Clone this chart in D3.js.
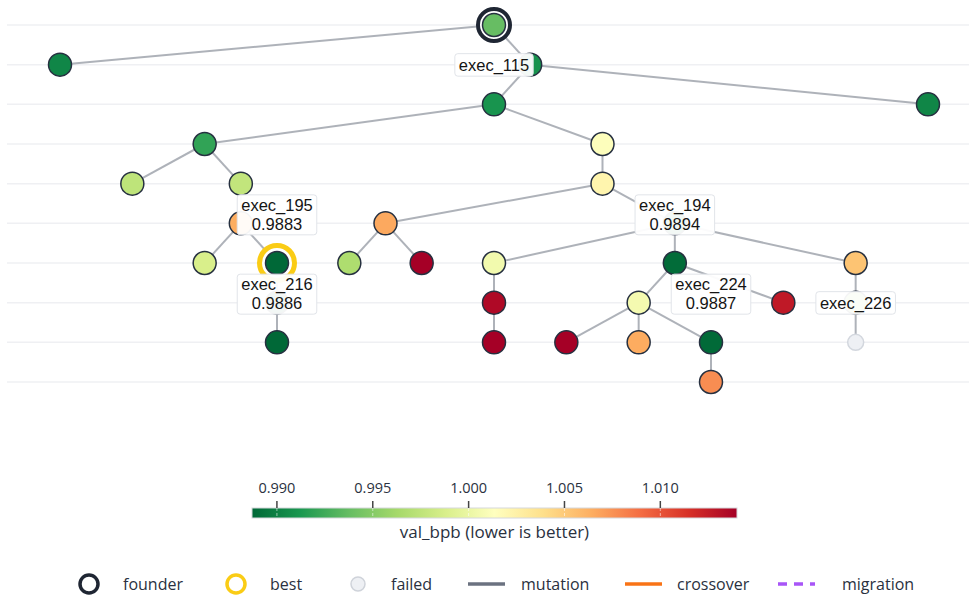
<!DOCTYPE html>
<html lang="en">
<head>
<meta charset="UTF-8">
<title>Lineage tree</title>
<style>
  body { margin: 0; background: #fff; }
  svg { display: block; font-family: "Open Sans", "Liberation Sans", Arial, sans-serif; }
</style>
</head>
<body>
<div id="chart"></div>
<script src="https://cdn.jsdelivr.net/npm/d3@7"></script>
<script>
"use strict";

// tree nodes: layout column, generation, parent, val_bpb (null = failed)
var nodeIds    = ["A","B","C","D","E","F","G","H","I","J","K","L","M","N","O","P","Q","R","S","T","U","V","W","Y","Z","a","b","c","d","e","f","g"];
var nodeCol    = [12, 0, 13, 12, 24, 4, 15, 2, 5, 15, 5, 9, 17, 4, 6, 8, 10, 12, 17, 22, 6, 12, 16, 20, 22, 6, 12, 14, 16, 18, 22, 18];
var nodeGen    = [0, 1, 1, 2, 2, 3, 3, 4, 4, 4, 5, 5, 5, 6, 6, 6, 6, 6, 6, 6, 7, 7, 7, 7, 7, 8, 8, 8, 8, 8, 8, 9];
var nodeParent = [null,"A","A","C","C","D","D","F","F","G","I","J","J","K","K","L","L","M","M","M","O","R","S","S","T","U","V","W","W","W","Z","e"];
var nodeVal    = [0.9938, 0.9903, 0.9909, 0.9910, 0.9903, 0.9920, 1.0012, 0.9975, 0.9977, 1.0022,
                  1.0064, 1.0066, 0.9894, 0.9988, 0.9883, 0.9967, 1.0140, 1.0005, 0.9889, 1.0053,
                  0.9886, 1.0135, 1.0006, 1.0127, 0.9960, 0.9886, 1.0140, 1.0140, 1.0065, 0.9888,
                  null, 1.0077];
var edgeKind   = "mutation";
var founderId  = "A";
var bestId     = "O";

// text labels
var labelLines = [["exec_115"], ["exec_195", "0.9883"], ["exec_216", "0.9886"], ["exec_194", "0.9894"], ["exec_224", "0.9887"], ["exec_226"]];
var labelCol   = [12, 6, 6, 17, 18, 22];
var labelGen   = [1, 5, 7, 5, 7, 7];

// colour bar
var cbDomain = [0.9887, 1.0140];
var cbTicks  = [0.990, 0.995, 1.000, 1.005, 1.010];
var cbTitle  = "val_bpb (lower is better)";
var rdylgn   = ["#006837","#1a9850","#66bd63","#a6d96a","#d9ef8b","#ffffbf","#fee08b","#fdae61","#f46d43","#d73027","#a50026"];

// legend
var legendNames = ["founder", "best", "failed", "mutation", "crossover", "migration"];
var legendX     = [89, 236, 358, 486, 643, 796];
var legendTextX = [123, 270, 391, 521, 677, 842];

var width = 969, height = 598;

var svg = d3.select("#chart").append("svg")
    .attr("width", width)
    .attr("height", height);

var x = d3.scaleLinear().domain([0, 24]).range([60, 928]);
var y = d3.scaleLinear().domain([0, 9]).range([25, 382]);

var colorStops = rdylgn.map(function(c, i) {
    return cbDomain[0] + (cbDomain[1] - cbDomain[0]) * i / (rdylgn.length - 1);
});
var color = d3.scaleLinear().domain(colorStops).range(rdylgn).clamp(true);

var nodes = nodeIds.map(function(id, i) {
    return { id: id, col: nodeCol[i], gen: nodeGen[i], parent: nodeParent[i], val: nodeVal[i] };
});
var byId = {};
nodes.forEach(function(n) { byId[n.id] = n; });

// grid lines for each generation
svg.append("g")
    .selectAll("line")
    .data(d3.range(0, 10))
    .enter()
    .append("line")
    .attr("x1", 7)
    .attr("x2", width)
    .attr("y1", function(d) { return y(d); })
    .attr("y2", function(d) { return y(d); })
    .attr("stroke", "#eff0f3")
    .attr("stroke-width", 1.5);

// edges
svg.append("g")
    .selectAll("line")
    .data(nodes.filter(function(n) { return n.parent; }))
    .enter()
    .append("line")
    .attr("x1", function(d) { return x(byId[d.parent].col); })
    .attr("y1", function(d) { return y(byId[d.parent].gen); })
    .attr("x2", function(d) { return x(d.col); })
    .attr("y2", function(d) { return y(d.gen); })
    .attr("stroke", edgeKind === "mutation" ? "#6b7280" : "#f97316")
    .attr("stroke-opacity", 0.55)
    .attr("stroke-width", 2);

// founder / best rings
var founder = byId[founderId], best = byId[bestId];
svg.append("circle")
    .attr("cx", x(founder.col)).attr("cy", y(founder.gen)).attr("r", 16)
    .attr("fill", "#fff").attr("stroke", "#1f2633").attr("stroke-width", 4);
svg.append("circle")
    .attr("cx", x(best.col)).attr("cy", y(best.gen)).attr("r", 17.5)
    .attr("fill", "#fff").attr("stroke", "#facc15").attr("stroke-width", 5);

// nodes
svg.append("g")
    .selectAll("circle")
    .data(nodes)
    .enter()
    .append("circle")
    .attr("cx", function(d) { return x(d.col); })
    .attr("cy", function(d) { return y(d.gen); })
    .attr("r", function(d) { return d.val === null ? 8 : 11.5; })
    .attr("fill", function(d) { return d.val === null ? "#eef0f4" : color(d.val); })
    .attr("stroke", function(d) { return d.val === null ? "#d3d7de" : "#263040"; })
    .attr("stroke-width", 1.5);

// labels
var labels = svg.append("g")
    .selectAll("g")
    .data(labelLines.map(function(l, i) { return { lines: l, col: labelCol[i], gen: labelGen[i] }; }))
    .enter()
    .append("g");

labels.each(function(d) {
    var g = d3.select(this);
    var cx = x(d.col), bottom = y(d.gen) + 11.5, lh = 19;
    var top = bottom - d.lines.length * lh - (d.lines.length === 1 ? 3.5 : 2);
    var rect = g.append("rect");
    var t = g.append("text")
        .attr("text-anchor", "middle")
        .attr("font-family", "'Liberation Sans', Arial, sans-serif")
        .attr("font-size", 16.5)
        .attr("fill", "#141414");
    d.lines.forEach(function(s, k) {
        t.append("tspan")
            .attr("x", cx)
            .attr("y", bottom - 5 - lh * (d.lines.length - 1 - k))
            .text(s);
    });
    var w = t.node().getBBox().width + 8;
    rect.attr("x", cx - w / 2).attr("y", top)
        .attr("width", w).attr("height", bottom - top)
        .attr("rx", 3)
        .attr("fill", "rgba(255,255,255,0.95)")
        .attr("stroke", "#e1e4e9")
        .attr("stroke-width", 1);
});

// colour bar
var cb = d3.scaleLinear().domain(cbDomain).range([252, 737]);
var grad = svg.append("defs").append("linearGradient").attr("id", "cbgrad");
grad.selectAll("stop")
    .data(rdylgn)
    .enter()
    .append("stop")
    .attr("offset", function(d, i) { return (i / (rdylgn.length - 1) * 100) + "%"; })
    .attr("stop-color", function(d) { return d; });

svg.append("rect")
    .attr("x", cb.range()[0]).attr("y", 508)
    .attr("width", cb.range()[1] - cb.range()[0]).attr("height", 10)
    .attr("fill", "url(#cbgrad)")
    .attr("stroke", "#d6d8dc").attr("stroke-width", 1);

var cbTick = svg.append("g")
    .selectAll("g")
    .data(cbTicks)
    .enter()
    .append("g")
    .attr("transform", function(d) { return "translate(" + cb(d) + ",0)"; });
cbTick.append("line").attr("y1", 501).attr("y2", 508).attr("stroke", "#444").attr("stroke-width", 1.5);
cbTick.append("line").attr("y1", 508).attr("y2", 518).attr("stroke", "rgba(255,255,255,0.55)").attr("stroke-width", 1)
    .attr("stroke-dasharray", "3,2");
cbTick.append("text")
    .attr("y", 493)
    .attr("text-anchor", "middle")
    .attr("font-size", 14.5)
    .attr("fill", "#2a3140")
    .text(function(d) { return d3.format(".3f")(d); });

svg.append("text")
    .attr("x", (cb.range()[0] + cb.range()[1]) / 2)
    .attr("y", 538)
    .attr("text-anchor", "middle")
    .attr("font-size", 17)
    .attr("fill", "#2a3140")
    .text(cbTitle);

// legend
var ly = 584;
var leg = svg.append("g");
leg.append("circle").attr("cx", legendX[0]).attr("cy", ly).attr("r", 9)
    .attr("fill", "#fff").attr("stroke", "#1f2633").attr("stroke-width", 3.5);
leg.append("circle").attr("cx", legendX[1]).attr("cy", ly).attr("r", 9)
    .attr("fill", "#fff").attr("stroke", "#facc15").attr("stroke-width", 3.5);
leg.append("circle").attr("cx", legendX[2]).attr("cy", ly).attr("r", 7)
    .attr("fill", "#eef0f4").attr("stroke", "#cfd3da").attr("stroke-width", 1.5);
leg.append("line").attr("x1", legendX[3] - 18).attr("x2", legendX[3] + 19).attr("y1", ly).attr("y2", ly)
    .attr("stroke", "#6b7280").attr("stroke-width", 3.5);
leg.append("line").attr("x1", legendX[4] - 18).attr("x2", legendX[4] + 19).attr("y1", ly).attr("y2", ly)
    .attr("stroke", "#f97316").attr("stroke-width", 3.5);
leg.append("line").attr("x1", legendX[5] - 18).attr("x2", legendX[5] + 19).attr("y1", ly).attr("y2", ly)
    .attr("stroke", "#a855f7").attr("stroke-width", 3.5).attr("stroke-dasharray", "9,7");

leg.selectAll("text")
    .data(legendNames)
    .enter()
    .append("text")
    .attr("x", function(d, i) { return legendTextX[i]; })
    .attr("y", ly + 6)
    .attr("font-size", 16)
    .attr("fill", "#2a3140")
    .text(function(d) { return d; });
</script>
</body>
</html>
